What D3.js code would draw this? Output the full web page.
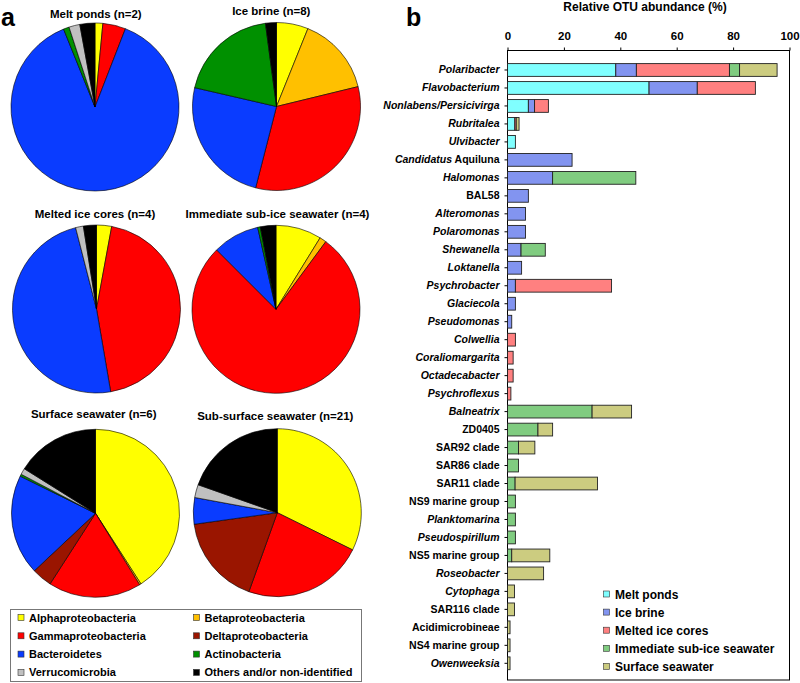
<!DOCTYPE html>
<html><head><meta charset="utf-8">
<script src="https://cdn.jsdelivr.net/npm/d3@7"></script>
<style>
body{margin:0;background:#fff}
svg{font-family:"Liberation Sans",Arial,sans-serif;font-weight:bold}
</style>
</head><body><svg id="c" width="800" height="683"></svg>
<script>
// ---------- Panel a data ----------
const groups = ["Alphaproteobacteria","Betaproteobacteria","Gammaproteobacteria","Deltaproteobacteria","Bacteroidetes","Actinobacteria","Verrucomicrobia","Others and/or non-identified"];
const groupColors = ["#ffff00","#ffc000","#ff0000","#9a1500","#0a3cff","#009000","#c0c0c0","#000000"];
const pieTitles = ["Melt ponds (n=2)","Ice brine (n=8)","Melted ice cores (n=4)","Immediate sub-ice seawater (n=4)","Surface seawater (n=6)","Sub-surface seawater (n=21)"];
const meltPonds   = [1.5, 0, 4.4, 0, 88.0, 1.1, 2.1, 2.9];
const iceBrine    = [6.1, 15.1, 32.8, 0, 24.6, 19.3, 0, 2.1];
const meltedCores = [2.9, 0, 44.4, 0, 48.7, 0, 1.5, 2.5];
const subIce      = [8.8, 1.3, 77.4, 0, 9.0, 0.5, 0, 3.0];
const surfaceSW   = [40.9, 0.3, 17.9, 3.9, 19.3, 0.4, 1.2, 16.1];
const subSurfSW   = [32.3, 0, 23.2, 17.3, 5.1, 0, 2.5, 19.6];

// ---------- Panel b data ----------
const genera = ["*Polaribacter*","*Flavobacterium*","*Nonlabens/Persicivirga*","*Rubritalea*","*Ulvibacter*","*Candidatus* Aquiluna","*Halomonas*","BAL58","*Alteromonas*","*Polaromonas*","*Shewanella*","*Loktanella*","*Psychrobacter*","*Glaciecola*","*Pseudomonas*","*Colwellia*","*Coraliomargarita*","*Octadecabacter*","*Psychroflexus*","*Balneatrix*","ZD0405","SAR92 clade","SAR86 clade","SAR11 clade","NS9 marine group","*Planktomarina*","*Pseudospirillum*","NS5 marine group","*Roseobacter*","*Cytophaga*","SAR116 clade","Acidimicrobineae","NS4 marine group","*Owenweeksia*"];
const habitats = ["Melt ponds","Ice brine","Melted ice cores","Immediate sub-ice seawater","Surface seawater"];
const habitatColors = ["#80ffff","#8294f0","#ff8080","#80cc80","#cccc80"];
const barMeltPonds   = [38.4,50.2,7.4,2.6,2.8,0,0,0,0,0,0,0,0,0,0,0,0,0,0,0,0,0,0,0,0,0,0,0,0,0,0,0,0,0];
const barIceBrine    = [7.3,17.1,2.2,0,0,22.9,16.0,7.4,6.4,6.4,4.8,5.0,2.8,2.8,1.5,0,0,0,0,0,0,0,0,0,0,0,0,0,0,0,0,0,0,0];
const barMeltedCores = [33.0,20.6,4.9,0.5,0,0,0,0,0,0,0,0,34.1,0,0,2.8,2.0,2.0,1.2,0,0,0,0,0,0,0,0,0,0,0,0,0,0,0];
const barSubIce      = [3.6,0,0,0,0,0,29.5,0,0,0,8.6,0,0,0,0,0,0,0,0,30.0,10.8,3.9,3.9,2.7,2.8,2.8,2.8,1.5,0,0,0,0,0,0];
const barSurface     = [13.3,0,0,1.0,0,0,0,0,0,0,0,0,0,0,0,0,0,0,0,14.0,5.2,5.8,0,29.2,0,0,0,13.5,12.8,2.5,2.5,0.9,0.9,0.9];
const xTicks = [0,20,40,60,80,100];

const svg = d3.select("#c");

// ---------- Panel a ----------
svg.append("text").attr("x",1).attr("y",26).attr("font-size",25).text("a");
const pieData = [meltPonds, iceBrine, meltedCores, subIce, surfaceSW, subSurfSW];
const pieCenters = [[95,107],[276.5,106.5],[96.5,309],[276,309.3],[95.5,513.3],[277.3,512.7]];
const titlePos = [[95.8,18],[271.3,15],[95,218],[277.5,218],[93.7,418],[275.3,420]];
const pie = d3.pie().sort(null).value(d => d);
const arc = d3.arc().innerRadius(0).outerRadius(84);
pieData.forEach((vals, i) => {
  const g = svg.append("g").attr("transform", `translate(${pieCenters[i]})`);
  g.selectAll("path").data(pie(vals).filter(d => d.value > 0)).join("path")
    .attr("d", arc).attr("fill", d => groupColors[d.index])
    .attr("stroke", "#000").attr("stroke-width", 0.6).attr("stroke-linejoin","round");
  svg.append("text").attr("x", titlePos[i][0]).attr("y", titlePos[i][1])
    .attr("text-anchor","middle").attr("font-size",11.5).text(pieTitles[i]);
});

// left legend
svg.append("rect").attr("x",10.5).attr("y",609.5).attr("width",351).attr("height",72)
  .attr("fill","none").attr("stroke","#777").attr("stroke-width",1);
groups.forEach((gname, i) => {
  const col = i % 2, row = Math.floor(i / 2);
  const x = col ? 193.5 : 18, y = 617.5 + row * 18.3;
  svg.append("rect").attr("x", x).attr("y", y - 3).attr("width",6).attr("height",6)
    .attr("fill", groupColors[i]).attr("stroke","#333").attr("stroke-width",0.6);
  svg.append("text").attr("x", x + 11).attr("y", y + 4).attr("font-size",11).text(gname);
});

// ---------- Panel b ----------
svg.append("text").attr("x",406).attr("y",26).attr("font-size",25).text("b");
const x = d3.scaleLinear().domain([0,100]).range([507.5,789.5]);
const y = d3.scaleBand().domain(d3.range(genera.length)).range([61,672.3]).paddingInner(0.29).paddingOuter(0.145);

const rows = genera.map((g, i) => {
  const r = {i};
  habitats.forEach((h, k) => r[h] = [barMeltPonds,barIceBrine,barMeltedCores,barSubIce,barSurface][k][i]);
  return r;
});
const stacked = d3.stack().keys(habitats)(rows);

// frame
svg.append("rect").attr("x",x(0)).attr("y",50.5).attr("width",x(100)-x(0)).attr("height",629.5)
  .attr("fill","none").attr("stroke","#000").attr("stroke-width",1);

stacked.forEach((layer, k) => {
  svg.append("g").selectAll("rect").data(layer.filter(d => d[1]-d[0] > 0)).join("rect")
    .attr("x", d => x(d[0])).attr("width", d => x(d[1]) - x(d[0]))
    .attr("y", d => y(d.data.i)).attr("height", y.bandwidth())
    .attr("fill", habitatColors[k]).attr("stroke","#222").attr("stroke-width",0.9);
});

const xAxis = svg.append("g").attr("transform","translate(0,50.5)")
  .call(d3.axisTop(x).tickValues(xTicks).tickSize(3).tickSizeOuter(0).tickPadding(8));
xAxis.select(".domain").remove();
xAxis.selectAll("text").attr("font-size",11.5).attr("font-family",null).attr("font-weight","bold").attr("fill","#000");

const yAxis = svg.append("g").attr("transform",`translate(${x(0)},0)`)
  .call(d3.axisLeft(y).tickSize(3).tickSizeOuter(0).tickPadding(5).tickFormat(() => ""));
yAxis.select(".domain").remove();
yAxis.selectAll(".tick text").each(function(i) {
  const t = d3.select(this).attr("font-size",10.5).attr("font-family",null).attr("font-weight","bold").attr("fill","#000");
  const parts = genera[i].split("*");
  parts.forEach((p, j) => {
    if (!p) return;
    t.append("tspan").attr("font-style", j % 2 ? "italic" : "normal").text(p);
  });
});

svg.append("text").attr("x",645).attr("y",11).attr("text-anchor","middle").attr("font-size",12)
  .text("Relative OTU abundance (%)");

// right legend
habitats.forEach((h, k) => {
  const yy = 594 + k * 18.1;
  svg.append("rect").attr("x",603.5).attr("y",yy-3).attr("width",6).attr("height",6)
    .attr("fill", habitatColors[k]).attr("stroke","#333").attr("stroke-width",0.6);
  svg.append("text").attr("x",615).attr("y",yy+4.5).attr("font-size",12).text(h);
});
</script></body></html>
